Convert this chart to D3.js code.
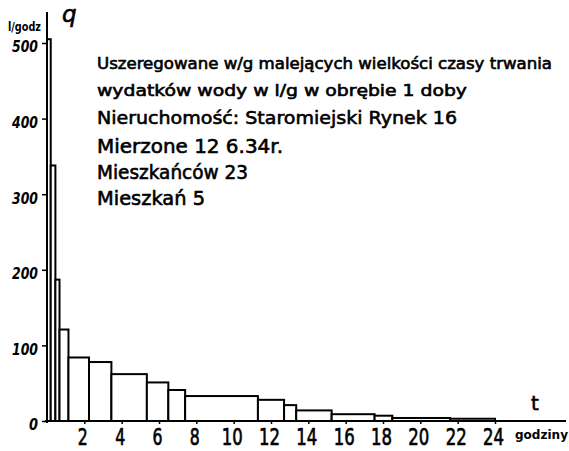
<!DOCTYPE html>
<meta charset="utf-8"/>
<style>
  body { margin: 0; background: #fff; }
  text { font-family: "DejaVu Sans", sans-serif; fill: #000; }
</style>
<svg width="569" height="451"></svg>
<script src="https://cdn.jsdelivr.net/npm/d3@7"></script>
<script>

// durations sorted by decreasing flow (hours from start of day)
var hourEdges = [0, 0.2, 0.45, 0.67, 1.15, 2.25, 3.45, 5.35, 6.5, 7.4, 11.3, 12.7, 13.35, 15.25, 17.55, 18.5, 21.6, 24];
var flowValues = [505, 338, 187, 121, 84, 78, 62, 51, 41, 33, 28, 21, 14, 9, 7, 4, 3];
var yTicks = [0, 100, 200, 300, 400, 500];
var xTicks = [2, 4, 6, 8, 10, 12, 14, 16, 18, 20, 22, 24];
var notes = [
  "Uszeregowane w/g malejących wielkości czasy trwania",
  "wydatków wody w l/g w obrębie 1 doby",
  "Nieruchomość: Staromiejski Rynek 16",
  "Mierzone 12 6.34r.",
  "Mieszkańców 23",
  "Mieszkań 5"
];

var svg = d3.select("svg");

var x = d3.scaleLinear().domain([0, 24]).range([47, 495]);
var y = d3.scaleLinear().domain([0, 500]).range([421, 43]);

var bars = flowValues.map(function(v, i) {
  return {x0: hourEdges[i], x1: hourEdges[i + 1], v: v};
});

svg.append("g").selectAll("rect")
    .data(bars)
  .enter().append("rect")
    .attr("x", function(d) { return x(d.x0); })
    .attr("width", function(d) { return x(d.x1) - x(d.x0); })
    .attr("y", function(d) { return y(d.v); })
    .attr("height", function(d) { return y(0) - y(d.v); })
    .attr("fill", "#fff")
    .attr("stroke", "#000")
    .attr("stroke-width", 2);

// axes lines (hand drawn ones run past the scale)
svg.append("line")
    .attr("x1", x(0)).attr("x2", x(0))
    .attr("y1", 12).attr("y2", y(0) + 2)
    .attr("stroke", "#000").attr("stroke-width", 2);
svg.append("line")
    .attr("x1", x(0) - 2).attr("x2", 566)
    .attr("y1", y(0)).attr("y2", y(0))
    .attr("stroke", "#000").attr("stroke-width", 2);

var yAxis = svg.append("g")
    .attr("transform", "translate(" + x(0) + ",0)")
    .call(d3.axisLeft(y).tickValues(yTicks).tickSize(5).tickPadding(4).tickFormat(d3.format("d")));
yAxis.select(".domain").remove();
yAxis.selectAll("line").attr("stroke-width", 1.5);
yAxis.selectAll("text")
    .attr("font-family", "DejaVu Sans")
    .style("font-size", "16px")
    .style("font-weight", "bold")
    .style("font-style", "italic")
    .attr("dy", "0.55em")
    .attr("textLength", function(d) { return d === 0 ? 9 : 26; })
    .attr("lengthAdjust", "spacingAndGlyphs");

var xAxis = svg.append("g")
    .attr("transform", "translate(0," + y(0) + ")")
    .call(d3.axisBottom(x).tickValues(xTicks).tickSize(3).tickFormat(d3.format("d")));
xAxis.select(".domain").remove();
xAxis.selectAll("line").attr("stroke-width", 1.5);
xAxis.selectAll("text")
    .attr("font-family", "DejaVu Sans")
    .style("font-size", "23px")
    .style("stroke", "#000")
    .style("stroke-width", 0.7)
    .attr("y", 24)
    .attr("dy", null)
    .attr("dx", -2)
    .attr("textLength", function(d) { return d < 10 ? 10 : 21; })
    .attr("lengthAdjust", "spacingAndGlyphs");

// unit labels
svg.append("text").attr("x", 8).attr("y", 31)
    .style("font-size", "13px").style("font-weight", "bold")
    .attr("textLength", 33).attr("lengthAdjust", "spacingAndGlyphs")
    .text("l/godz");
svg.append("text").attr("x", 62).attr("y", 22)
    .style("font-size", "23px").style("font-style", "italic")
    .style("stroke", "#000").style("stroke-width", 0.6)
    .text("q");
svg.append("text").attr("x", 535).attr("y", 410).attr("text-anchor", "middle")
    .style("font-size", "20px")
    .style("stroke", "#000").style("stroke-width", 0.6)
    .text("t");
svg.append("text").attr("x", 515).attr("y", 439)
    .style("font-size", "12px").style("font-weight", "bold")
    .attr("textLength", 53).attr("lengthAdjust", "spacingAndGlyphs")
    .text("godziny");

// description block
var noteY = [69, 96, 124, 153, 179, 205],
    noteSize = [15, 15, 18, 19, 19, 19],
    noteWidth = [455, 370, 360, 186, 151, 108];

svg.append("g").selectAll("text")
    .data(notes)
  .enter().append("text")
    .attr("x", 97)
    .attr("y", function(d, i) { return noteY[i]; })
    .style("font-size", function(d, i) { return noteSize[i] + "px"; })
    .style("stroke", "#000")
    .style("stroke-width", 0.6)
    .attr("textLength", function(d, i) { return noteWidth[i]; })
    .attr("lengthAdjust", "spacingAndGlyphs")
    .text(function(d) { return d; });

</script>
